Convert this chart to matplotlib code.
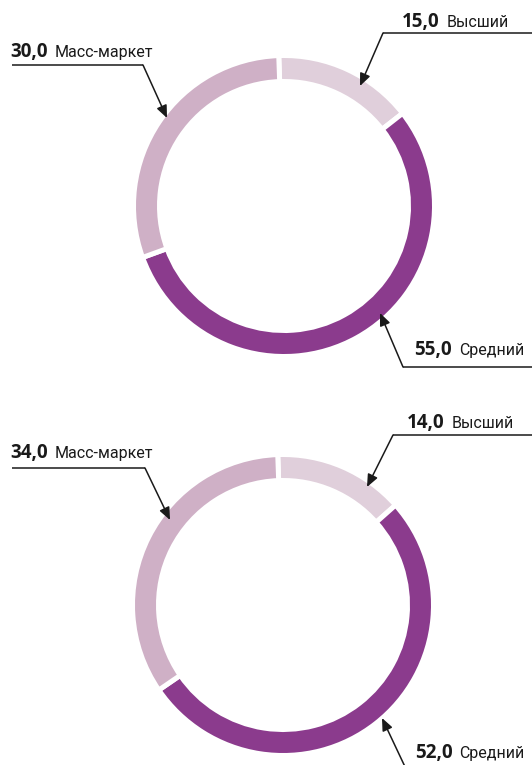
import matplotlib
matplotlib.use("Agg")
import matplotlib.pyplot as plt

# ---- data ----
categories = ["Высший", "Средний", "Масс-маркет"]
values_top = [15.0, 55.0, 30.0]
values_bottom = [14.0, 52.0, 34.0]
colors = ["#E0CFDB", "#8B3B8D", "#CFB0C6"]

# ---- layout ----
W, H = 532, 765
fig = plt.figure(figsize=(W / 100, H / 100), dpi=100)
ax = fig.add_axes([0, 0, 1, 1])
ax.set_xlim(0, W)
ax.set_ylim(H, 0)

gap = 5.0          # white gap between segments (px)
ring_r = 148.0
ring_w = 21.0
centers = [(284, 206), (283, 605)]
start_screen = 92   # degrees (screen), slightly left of 12 o'clock

for center, vals in zip(centers, [values_top, values_bottom]):
    ax.pie(vals, colors=colors, center=center, radius=ring_r + gap / 2,
           startangle=-start_screen, counterclock=True,
           wedgeprops=dict(width=ring_w + gap, edgecolor="white",
                           linewidth=gap * 0.72))

ax.set_xlim(0, W)
ax.set_ylim(H, 0)
ax.set_aspect("equal")
ax.axis("off")

num_font = dict(family=["Open Sans", "DejaVu Sans"], fontweight="bold", fontsize=13.5)
lab_font = dict(family=["Roboto", "DejaVu Sans"], fontsize=11.5)
ink = "#1a1a1a"

# (value, label, num_x, baseline_y, line_x0, line_x1, line_y, tip, corner side)
annots = [
    (values_top[0], categories[0], 402, 27, 383, 532, 33, (360, 86), "left"),
    (values_top[2], categories[2], 10, 57, 12, 143, 65, (167, 118), "right"),
    (values_top[1], categories[1], 414, 355, 403, 532, 367, (380, 313), "left"),
    (values_bottom[0], categories[0], 407, 428, 393, 532, 435, (367, 487), "left"),
    (values_bottom[2], categories[2], 10, 458, 12, 145, 468, (170, 520), "right"),
    (values_bottom[1], categories[1], 415, 758, 407, 532, 771, (382, 718), "left"),
]

num_texts = []
for val, lab, nx, by, x0, x1, ly, tip, corner in annots:
    t = ax.text(nx, by, f"{val:.1f}".replace(".", ","), ha="left", va="baseline",
                color=ink, **num_font)
    num_texts.append(t)
    ax.plot([x0, x1], [ly, ly], color=ink, lw=1.1, solid_capstyle="butt")
    cx = x0 if corner == "left" else x1
    ax.annotate("", xy=tip, xytext=(cx, ly),
                arrowprops=dict(arrowstyle="-|>,head_length=0.75,head_width=0.32",
                                color=ink, lw=1.1, shrinkA=0, shrinkB=0))

fig.canvas.draw()
renderer = fig.canvas.get_renderer()
inv = ax.transData.inverted()
for t, (val, lab, nx, by, *_rest) in zip(num_texts, annots):
    bb = t.get_window_extent(renderer)
    x_end = inv.transform((bb.x1, bb.y0))[0]
    ax.text(x_end + 7, by, lab, ha="left", va="baseline", color=ink, **lab_font)

fig.savefig("out.png", dpi=100)
